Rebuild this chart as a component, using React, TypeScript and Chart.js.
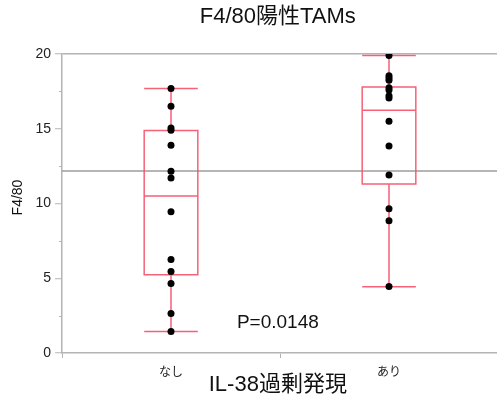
import { useEffect, useRef } from "react";
import { Chart, registerables } from "chart.js";

Chart.register(...registerables);

// ---- data ----
const chartTitle = "F4/80陽性TAMs";
const xAxisTitle = "IL-38過剰発現";
const yAxisTitle = "F4/80";
const categories = ["なし", "あり"];
const pointsNone = [17.7, 16.5, 15.05, 14.9, 13.9, 12.15, 11.7, 9.45, 6.25, 5.45, 4.65, 2.65, 1.43];
const pointsYes = [19.9, 18.55, 18.4, 18.25, 17.75, 17.6, 17.2, 17.05, 15.5, 13.85, 11.9, 9.65, 8.85, 4.45];
// [min, q1, median, q3, max]
const boxNone = [1.43, 5.23, 10.5, 14.88, 17.7];
const boxYes = [4.43, 11.3, 16.24, 17.79, 19.9];
const overallMean = 12.17;
const yTickValues = [0, 2.5, 5, 7.5, 10, 12.5, 15, 17.5, 20];
const pValueText = "P=0.0148";

const FONT = '"Liberation Sans", "Noto Sans CJK JP", "Noto Sans", sans-serif';
const BOX_COLOR = "rgba(245, 80, 105, 0.9)";
const AXIS_COLOR = "#b4b4b4";
const MEAN_COLOR = "#9c9c9c";
const BOX_HALF = 0.123;

const drawPlugin = {
  id: "boxDraw",
  beforeDatasetsDraw(chart: any) {
    const { ctx, chartArea, scales } = chart;
    const x = scales.x;
    const y = scales.y;
    ctx.save();
    // overall mean line
    const my = y.getPixelForValue(overallMean);
    ctx.strokeStyle = MEAN_COLOR;
    ctx.lineWidth = 1.5;
    ctx.beginPath();
    ctx.moveTo(chartArea.left, my);
    ctx.lineTo(chartArea.right, my);
    ctx.stroke();
    // boxes
    ctx.strokeStyle = BOX_COLOR;
    ctx.lineWidth = 1.5;
    [boxNone, boxYes].forEach((b, i) => {
      const cx = x.getPixelForValue(i);
      const l = x.getPixelForValue(i - BOX_HALF);
      const r = x.getPixelForValue(i + BOX_HALF);
      const [mn, q1, md, q3, mx] = b.map((v) => y.getPixelForValue(v));
      ctx.beginPath();
      ctx.moveTo(cx, mn);
      ctx.lineTo(cx, q1);
      ctx.moveTo(cx, q3);
      ctx.lineTo(cx, mx);
      ctx.moveTo(l, mn);
      ctx.lineTo(r, mn);
      ctx.moveTo(l, mx);
      ctx.lineTo(r, mx);
      ctx.moveTo(l, md);
      ctx.lineTo(r, md);
      ctx.rect(l, q3, r - l, q1 - q3);
      ctx.stroke();
    });
    ctx.restore();
  },
  afterDraw(chart: any) {
    const { ctx, chartArea, scales } = chart;
    const x = scales.x;
    const y = scales.y;
    ctx.save();
    // minor ticks
    ctx.strokeStyle = AXIS_COLOR;
    ctx.lineWidth = 1;
    yTickValues.forEach((v) => {
      if (v % 5 !== 0) {
        const py = Math.round(y.getPixelForValue(v)) + 0.5;
        ctx.beginPath();
        ctx.moveTo(chartArea.left - 3, py);
        ctx.lineTo(chartArea.left, py);
        ctx.stroke();
      }
    });
    const cx = x.getPixelForValue(0.49);
    // title
    ctx.fillStyle = "#111";
    ctx.textAlign = "center";
    ctx.textBaseline = "middle";
    ctx.font = `22px ${FONT}`;
    ctx.fillText(chartTitle, cx, 17);
    // x-axis title
    ctx.fillText(xAxisTitle, cx, 385);
    // p value
    ctx.font = `19px ${FONT}`;
    ctx.fillText(pValueText, cx, y.getPixelForValue(2.05));
    // y-axis title
    ctx.font = `14px ${FONT}`;
    ctx.translate(18, (chartArea.top + chartArea.bottom) / 2 - 6);
    ctx.rotate(-Math.PI / 2);
    ctx.fillText(yAxisTitle, 0, 0);
    ctx.restore();
  },
};

export default function App() {
  const ref = useRef<HTMLCanvasElement | null>(null);
  useEffect(() => {
    if (!ref.current) return;
    const chart = new Chart(ref.current, {
      type: "scatter",
      data: {
        datasets: [
          {
            label: categories[0],
            data: pointsNone.map((v) => ({ x: 0, y: v })),
            backgroundColor: "#000",
            borderWidth: 0,
            pointRadius: 3.5,
          },
          {
            label: categories[1],
            data: pointsYes.map((v) => ({ x: 1, y: v })),
            backgroundColor: "#000",
            borderWidth: 0,
            pointRadius: 3.5,
          },
        ],
      },
      options: {
        animation: false,
        responsive: false,
        layout: { padding: { left: 0, right: 0, top: 54, bottom: 0 } },
        plugins: { legend: { display: false }, tooltip: { enabled: false }, title: { display: false } },
        scales: {
          x: {
            type: "linear",
            min: -0.5,
            max: 1.5,
            afterFit: (s: any) => {
              s.height = 52;
            },
            afterBuildTicks: (s: any) => {
              s.ticks = [-0.5, 0, 0.5, 1, 1.5].map((v) => ({ value: v }));
            },
            ticks: {
              autoSkip: false,
              maxRotation: 0,
              padding: 7,
              color: "#222",
              font: { family: FONT, size: 12 },
              callback: (v: any) => (Number.isInteger(v) ? categories[v] : ""),
            },
            grid: {
              drawOnChartArea: false,
              tickLength: 5,
              tickColor: (c: any) => (c.tick && !Number.isInteger(c.tick.value) ? AXIS_COLOR : "transparent"),
            },
            border: { color: AXIS_COLOR, width: 1.5 },
          },
          y: {
            min: 0,
            max: 20,
            afterFit: (s: any) => {
              s.width = 62;
            },
            afterBuildTicks: (s: any) => {
              s.ticks = yTickValues.map((v) => ({ value: v }));
            },
            ticks: {
              autoSkip: false,
              padding: 4,
              color: "#222",
              font: { family: FONT, size: 14 },
              callback: (v: any) => (v % 5 === 0 ? String(v) : ""),
            },
            grid: {
              drawOnChartArea: true,
              tickLength: 7,
              lineWidth: 1.5,
              color: (c: any) => (c.tick && c.tick.value === 20 ? AXIS_COLOR : "transparent"),
              tickColor: (c: any) => (c.tick && c.tick.value % 5 === 0 ? AXIS_COLOR : "transparent"),
              tickWidth: 1,
            },
            border: { color: AXIS_COLOR, width: 1.5 },
          },
        },
      },
      plugins: [drawPlugin],
    });
    return () => chart.destroy();
  }, []);
  return (
    <div style={{ position: "fixed", left: 0, top: 0, width: 497, height: 405, overflow: "hidden", background: "#fff" }}>
      <canvas ref={ref} width={505} height={405} style={{ display: "block" }} />
    </div>
  );
}
